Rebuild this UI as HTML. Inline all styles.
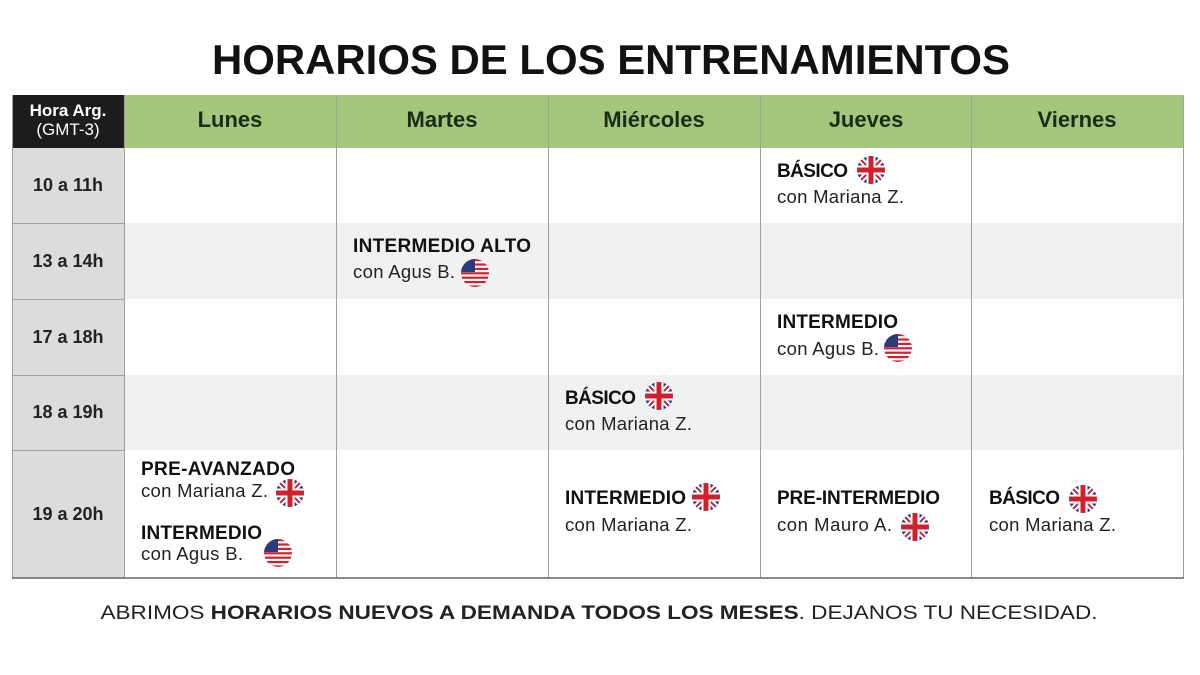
<!DOCTYPE html>
<html><head><meta charset="utf-8"><style>
html,body{margin:0;padding:0;background:#fff;}
svg{display:block;font-family:"Liberation Sans",sans-serif;}
</style></head><body>
<svg width="1200" height="675" viewBox="0 0 1200 675" xmlns="http://www.w3.org/2000/svg">
<defs>
<clipPath id="c"><circle cx="0" cy="0" r="14"/></clipPath>
<g id="uk"><g clip-path="url(#c)">
<rect x="-15" y="-15" width="30" height="30" fill="#1f3f8c"/>
<path d="M-15,-15L15,15M15,-15L-15,15" stroke="#fff" stroke-width="6"/>
<path d="M-15,-15L15,15M15,-15L-15,15" stroke="#d0202e" stroke-width="2"/>
<path d="M0,-15V15M-15,0H15" stroke="#fff" stroke-width="9"/>
<path d="M0,-15V15M-15,0H15" stroke="#d0202e" stroke-width="5"/>
</g></g>
<g id="us"><g clip-path="url(#c)">
<rect x="-15" y="-15" width="30" height="30" fill="#fff"/>
<g fill="#d0202e">
<rect x="-15" y="-14" width="30" height="2.2"/><rect x="-15" y="-9.6" width="30" height="2.2"/>
<rect x="-15" y="-5.2" width="30" height="2.2"/><rect x="-15" y="-0.8" width="30" height="2.2"/>
<rect x="-15" y="3.6" width="30" height="2.2"/><rect x="-15" y="8" width="30" height="2.2"/>
<rect x="-15" y="12.4" width="30" height="2.2"/></g>
<rect x="-15" y="-15" width="15" height="14" fill="#2a3b7c"/>
</g></g>
</defs>

<text x="611" y="74" text-anchor="middle" font-size="42" font-weight="bold" fill="#111" textLength="798" lengthAdjust="spacingAndGlyphs">HORARIOS DE LOS ENTRENAMIENTOS</text>

<rect x="12" y="95" width="112" height="53" fill="#1c1c1c"/>
<rect x="124" y="95" width="1059" height="53" fill="#a4c77b"/>
<text x="68" y="116" text-anchor="middle" font-size="17" font-weight="bold" fill="#fff">Hora Arg.</text>
<text x="68" y="135" text-anchor="middle" font-size="17" fill="#fff">(GMT-3)</text>
<g font-size="22" font-weight="bold" fill="#1d2a1a" text-anchor="middle">
<text x="230" y="127">Lunes</text><text x="442" y="127">Martes</text><text x="654" y="127">Miércoles</text>
<text x="866" y="127">Jueves</text><text x="1077" y="127">Viernes</text></g>

<rect x="12" y="148" width="112" height="430" fill="#dcdcdc"/>
<rect x="124" y="223" width="1059" height="76" fill="#f0f1f2"/>
<rect x="124" y="375" width="1059" height="75" fill="#f0f1f2"/>
<g stroke="#a0a0a0" stroke-width="1">
<line x1="12" y1="223.5" x2="124" y2="223.5"/><line x1="12" y1="299.5" x2="124" y2="299.5"/>
<line x1="12" y1="375.5" x2="124" y2="375.5"/><line x1="12" y1="450.5" x2="124" y2="450.5"/>
<line x1="12.5" y1="95" x2="12.5" y2="578"/>
<line x1="124.5" y1="95" x2="124.5" y2="578"/><line x1="336.5" y1="95" x2="336.5" y2="578"/>
<line x1="548.5" y1="95" x2="548.5" y2="578"/><line x1="760.5" y1="95" x2="760.5" y2="578"/>
<line x1="971.5" y1="95" x2="971.5" y2="578"/><line x1="1183.5" y1="95" x2="1183.5" y2="578"/>
</g>
<line x1="12" y1="578" x2="1184" y2="578" stroke="#666" stroke-width="1.5"/>

<g font-size="18" font-weight="bold" fill="#222" text-anchor="middle">
<text x="68" y="191">10 a 11h</text><text x="68" y="267">13 a 14h</text><text x="68" y="343">17 a 18h</text>
<text x="68" y="418">18 a 19h</text><text x="68" y="520">19 a 20h</text></g>

<g font-size="19" font-weight="bold" fill="#111">
<text x="777" y="177" textLength="71">BÁSICO</text>
<text x="353" y="252" textLength="178">INTERMEDIO ALTO</text>
<text x="777" y="328" textLength="121">INTERMEDIO</text>
<text x="565" y="404" textLength="71">BÁSICO</text>
<text x="141" y="475" textLength="154">PRE-AVANZADO</text>
<text x="141" y="539" textLength="121">INTERMEDIO</text>
<text x="565" y="504" textLength="121">INTERMEDIO</text>
<text x="777" y="504" textLength="163">PRE-INTERMEDIO</text>
<text x="989" y="504" textLength="71">BÁSICO</text>
</g>
<g font-size="18.5" fill="#222">
<text x="777" y="203" textLength="127">con Mariana Z.</text>
<text x="353" y="278" textLength="102">con Agus B.</text>
<text x="777" y="355" textLength="102">con Agus B.</text>
<text x="565" y="430" textLength="127">con Mariana Z.</text>
<text x="141" y="497" textLength="127">con Mariana Z.</text>
<text x="141" y="560" textLength="102">con Agus B.</text>
<text x="565" y="531" textLength="127">con Mariana Z.</text>
<text x="777" y="531" textLength="115">con Mauro A.</text>
<text x="989" y="531" textLength="127">con Mariana Z.</text>
</g>
<use href="#uk" x="871" y="170"/>
<use href="#us" x="475" y="273"/>
<use href="#us" x="898" y="348"/>
<use href="#uk" x="659" y="396"/>
<use href="#uk" x="290" y="493"/>
<use href="#us" x="278" y="553"/>
<use href="#uk" x="706" y="497"/>
<use href="#uk" x="915" y="527"/>
<use href="#uk" x="1083" y="499"/>

<text x="599" y="619" text-anchor="middle" font-size="19" fill="#222" textLength="997" lengthAdjust="spacingAndGlyphs">ABRIMOS <tspan font-weight="bold">HORARIOS NUEVOS A DEMANDA TODOS LOS MESES</tspan>. DEJANOS TU NECESIDAD.</text>
</svg>
</body></html>
